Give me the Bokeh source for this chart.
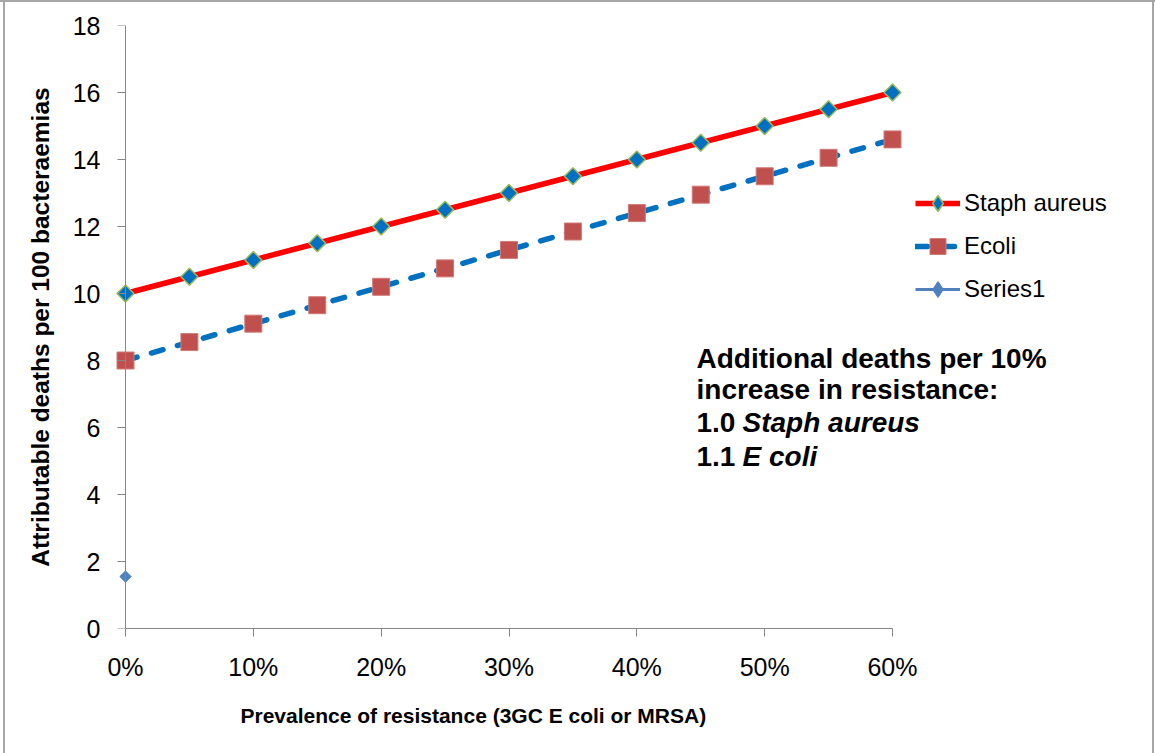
import math
from bokeh.plotting import figure
from bokeh.models import Range1d, FixedTicker, Legend, LegendItem, Label, LinearAxis, Title
from bokeh.embed import file_html
from bokeh.resources import INLINE

# ---------------- data ----------------
prevalence = [0, 5, 10, 15, 20, 25, 30, 35, 40, 45, 50, 55, 60]
staph_aureus = [10.0, 10.5, 11.0, 11.5, 12.0, 12.5, 13.0, 13.5, 14.0, 14.5, 15.0, 15.5, 16.0]
e_coli = [8.0, 8.55, 9.1, 9.65, 10.2, 10.75, 11.3, 11.85, 12.4, 12.95, 13.5, 14.05, 14.6]
series1_x = [0]
series1_y = [1.55]
x_ticks = [0, 10, 20, 30, 40, 50, 60]
x_tick_labels = ["0%", "10%", "20%", "30%", "40%", "50%", "60%"]
y_ticks = [0, 2, 4, 6, 8, 10, 12, 14, 16, 18]
series_names = ["Staph aureus", "Ecoli", "Series1"]
x_title = "Prevalence of resistance (3GC E coli or MRSA)"
y_title = "Attributable deaths per 100 bacteraemias"

# ---------------- layout ----------------
W, H = 1155, 753
FRAME_L, FRAME_R, FRAME_T, FRAME_B = 100, 1155, 25, 628
X0_PX, X60_PX = 125, 892
ppu = (X60_PX - X0_PX) / 60.0
x_start = -(X0_PX - FRAME_L) / ppu
x_end = 60 + (FRAME_R - X60_PX) / ppu

FONT = "Liberation Sans"
AXIS_GRAY = "#868686"
BORDER_GRAY = "#A6A6A6"

p = figure(width=W, height=H, output_backend="svg", toolbar_location=None,
           x_range=Range1d(x_start, x_end), y_range=Range1d(0, 18),
           min_border_left=FRAME_L, min_border_right=W - FRAME_R,
           min_border_top=FRAME_T, min_border_bottom=H - FRAME_B)
p.outline_line_color = None
p.xgrid.visible = False
p.ygrid.visible = False
p.background_fill_color = None
p.border_fill_color = None
g = f"linear-gradient({BORDER_GRAY},{BORDER_GRAY})"
p.styles = {
    "background": (f"{g} 3px 0/2px 100% no-repeat, {g} 0 0/100% 2px no-repeat, "
                   f"{g} 1152px 0/2px 100% no-repeat, white"),
}

# x axis
xa = p.xaxis[0]
xa.ticker = FixedTicker(ticks=x_ticks)
xa.major_label_overrides = {t: l for t, l in zip(x_ticks, x_tick_labels)}
xa.bounds = (0, 60)
xa.major_label_standoff = 16
xa.axis_line_color = AXIS_GRAY
xa.major_tick_line_color = AXIS_GRAY
xa.major_tick_out = 8

# x axis title, centred under the axis (not under the whole frame)
p.add_layout(Title(text=x_title, align="left", offset=240 - FRAME_L,
                   vertical_align="top", standoff=40,
                   text_font=FONT, text_font_size="21px", text_font_style="bold",
                   text_color="black"), "below")

# y axis labels (in the left panel; its own line and ticks hidden)
ya = p.yaxis[0]
ya.ticker = FixedTicker(ticks=y_ticks)
ya.axis_label = y_title
ya.axis_label_text_font_size = "24.5px"
ya.axis_label_standoff = 16
ya.major_label_standoff = 0
ya.axis_line_color = None
ya.major_tick_line_color = None
ya.major_tick_out = 0

# y axis line and ticks drawn at x = 0
ya2 = LinearAxis(ticker=FixedTicker(ticks=y_ticks), fixed_location=0, bounds=(0, 18),
                 major_label_overrides={t: "" for t in y_ticks},
                 major_label_standoff=0)
ya2.axis_line_color = AXIS_GRAY
ya2.major_tick_line_color = AXIS_GRAY
ya2.major_tick_out = 8
p.add_layout(ya2, "left")

for ax in (xa, ya, ya2):
    ax.major_tick_in = 0
    ax.minor_tick_line_color = None
    ax.major_label_text_font = FONT
    ax.major_label_text_font_size = "25px"
    ax.major_label_text_color = "black"
    ax.axis_label_text_font = FONT
    ax.axis_label_text_font_style = "bold"
    ax.axis_label_text_color = "black"

# ---------------- series ----------------
staph_line = p.line(prevalence, staph_aureus, line_color="#FF0000", line_width=5.5)
# diamond swatch used by the legend; hidden under the rotated squares in the plot
staph_key = p.scatter(prevalence, staph_aureus, marker="diamond", size=16,
                      fill_color="#0070C0", line_color="#9BBB59", line_width=1.5)
staph_pts = p.scatter(prevalence, staph_aureus, marker="square", size=12, angle=math.pi / 4,
                      fill_color="#0070C0", line_color="#9BBB59", line_width=1.5)
ecoli_line = p.line(prevalence, e_coli, line_color="#0070C0", line_width=5.5,
                    line_dash="12 15", line_cap="round")
ecoli_pts = p.scatter(prevalence, e_coli, marker="square", size=17,
                      fill_color="#C0504D", line_color="#CF7B78", line_width=1)
s1_line = p.line(series1_x, series1_y, line_color="#4F81BD", line_width=3)
s1_key = p.scatter(series1_x, series1_y, marker="diamond", size=9,
                   fill_color="#4F81BD", line_color="#4F81BD", line_width=1)
s1_pts = p.scatter(series1_x, series1_y, marker="square", size=8, angle=math.pi / 4,
                   fill_color="#4F81BD", line_color="#4F81BD", line_width=1)

legend = Legend(items=[
    LegendItem(label=series_names[0], renderers=[staph_line, staph_key]),
    LegendItem(label=series_names[1], renderers=[ecoli_line, ecoli_pts]),
    LegendItem(label=series_names[2], renderers=[s1_line, s1_key]),
], location=(915 - FRAME_L, FRAME_B - 309))
legend.label_text_font = FONT
legend.label_text_font_size = "24px"
legend.label_text_color = "black"
legend.glyph_width = 45
legend.glyph_height = 40
legend.label_height = 40
legend.spacing = 3
legend.padding = 0
legend.margin = 0
legend.label_standoff = 4
legend.border_line_color = None
legend.background_fill_alpha = 0
p.add_layout(legend)

# ---------------- annotation text ----------------
def px_to_x(px):
    return (px - X0_PX) / ppu

def px_to_y(py):
    return (FRAME_B - py) * 18.0 / (FRAME_B - FRAME_T)

TXT_L = 696
TXT_L2 = 742
baselines = [358, 389, 422, 456]
lines = [
    [("Additional deaths per 10%", TXT_L, "bold")],
    [("increase in resistance:", TXT_L, "bold")],
    [("1.0", TXT_L, "bold"), ("Staph aureus", TXT_L2, "bold italic")],
    [("1.1", TXT_L, "bold"), ("E coli", TXT_L2, "bold italic")],
]
for b, segs in zip(baselines, lines):
    for txt, xp, style in segs:
        p.add_layout(Label(x=px_to_x(xp), y=px_to_y(b), text=txt, text_font=FONT,
                           text_font_size="28px", text_font_style=style,
                           text_baseline="alphabetic", text_align="left",
                           text_color="black"))

open("out.html", "w").write(file_html(p, INLINE))
